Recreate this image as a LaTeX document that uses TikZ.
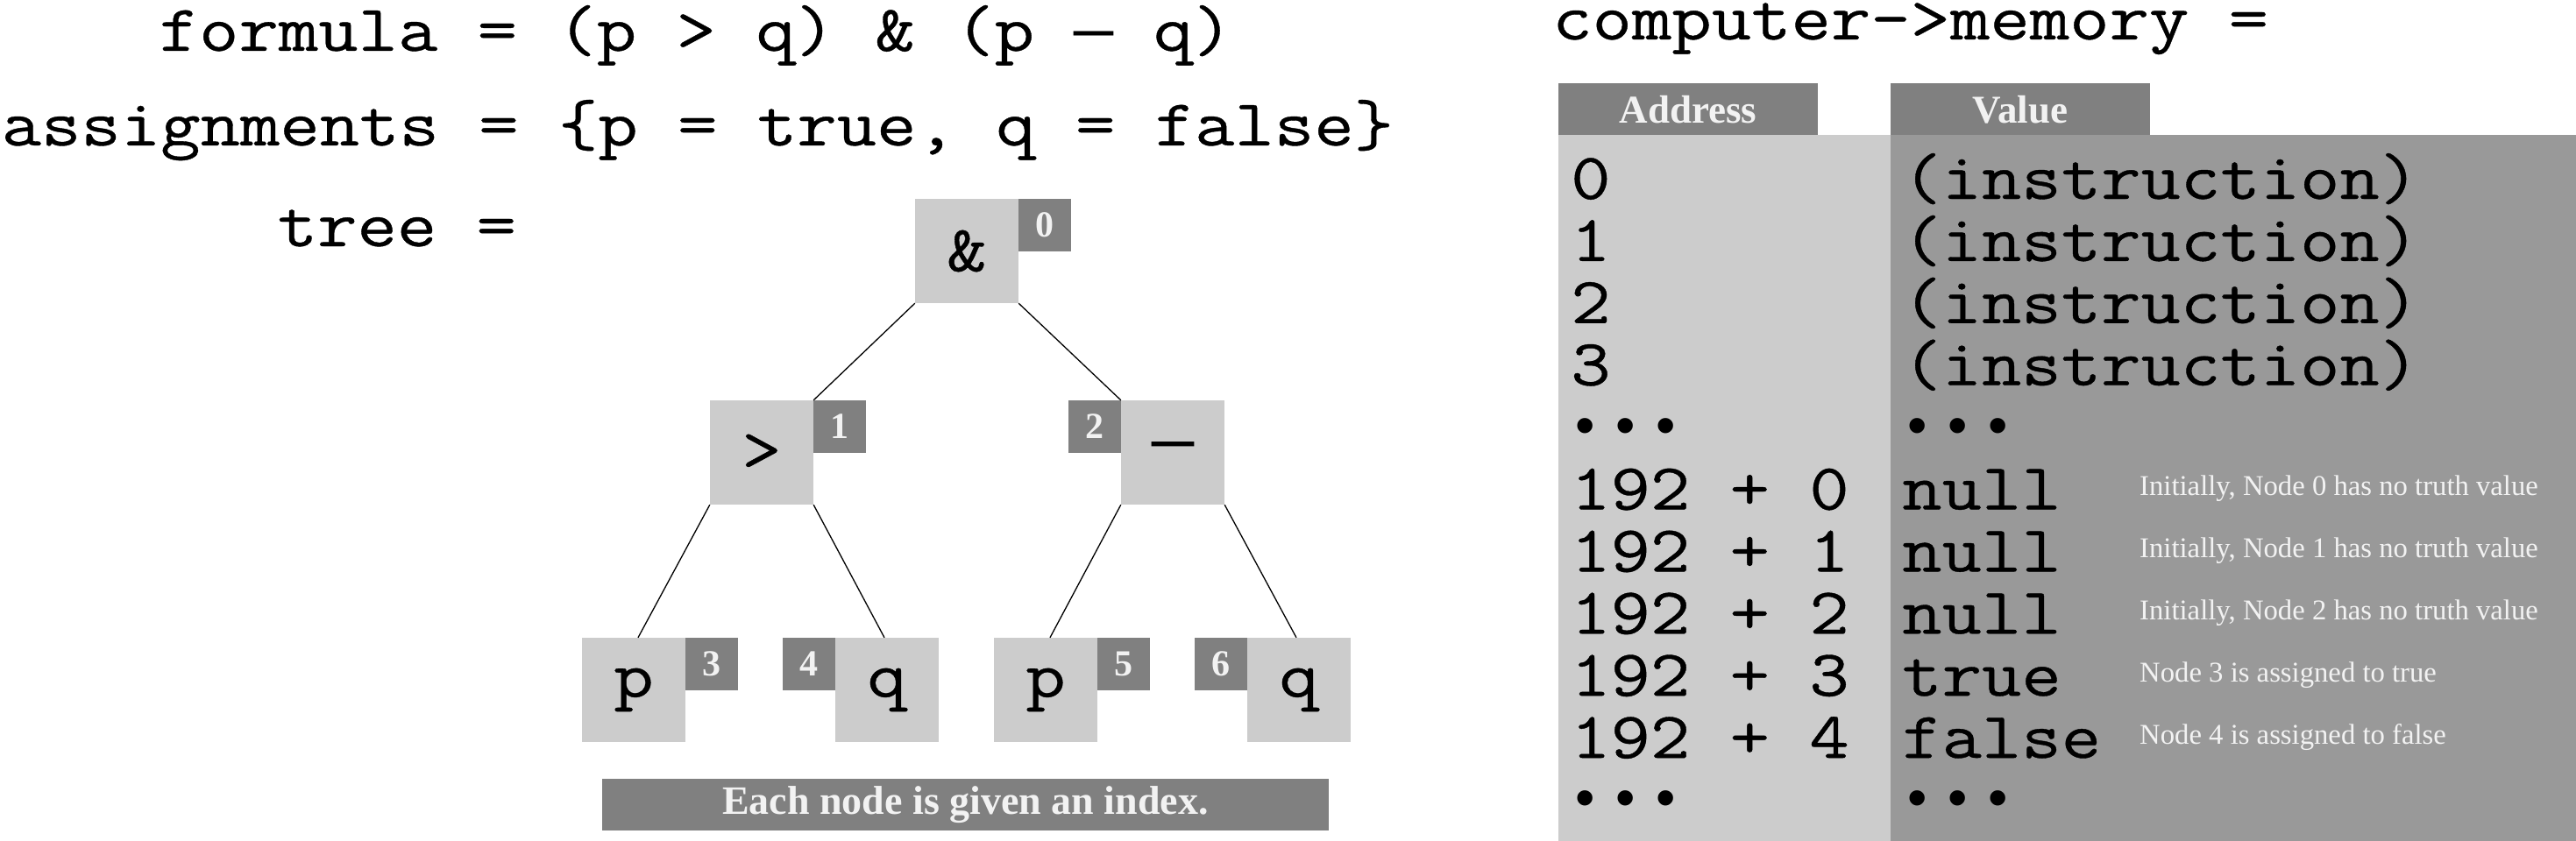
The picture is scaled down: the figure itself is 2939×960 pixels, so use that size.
\documentclass[tikz,border=0pt]{standalone}
\usepackage{fontspec}
\setmainfont{Liberation Serif}
\newfontfamily\cour{Latin Modern Mono}[FakeStretch=1.175,FakeBold=0.5]
\newfontfamily\dotfont{Liberation Mono}
\newcommand\dashglyph{{\dotfont —}}
\newcommand\dotrow{\makebox[45.8pt]{•}\makebox[45.8pt]{•}\makebox[45.8pt]{•}}
\definecolor{lightg}{gray}{0.8}
\definecolor{darkg}{gray}{0.5}
\definecolor{midg}{gray}{0.6}
\definecolor{paleg}{gray}{0.95}
\begin{document}
\begin{tikzpicture}[x=1pt,y=-1pt,
  mono/.style={font=\cour\fontsize{75}{80}\selectfont, inner sep=0pt, anchor=base west},
  dots/.style={font=\dotfont\fontsize{64}{68}\selectfont, inner sep=0pt, anchor=west},
  tnode/.style={fill=lightg, minimum width=118pt, minimum height=119pt, inner sep=0pt,
                font=\cour\fontsize{75}{80}\selectfont},
  idx/.style={fill=darkg, minimum width=60pt, minimum height=60pt, inner sep=0pt,
              text=paleg, font=\bfseries\fontsize{42}{44}\selectfont},
  hdr/.style={fill=darkg, minimum width=296pt, minimum height=59.5pt, inner sep=0pt,
              text=paleg, font=\bfseries\fontsize{45}{47}\selectfont},
  note/.style={font=\fontsize{32.7}{34}\selectfont, text=paleg, inner sep=0pt, anchor=base west},
  edge/.style={draw=black, line width=1.3pt}]
\useasboundingbox (0,0) rectangle (2939,960);

% left text
\node[mono] (formula) at (181.5,58) {formula = (p > q) \& (p \dashglyph{} q)};
\node[mono] (assign) at (1.5,166) {assignments = \{p = true, q = false\}};
\node[mono] (treelbl) at (316.5,281) {tree =};

% tree
\node[tnode] (n0) at (1103,286.5) {\&};
\node[tnode] (n1) at (869,516.5) {>};
\node[tnode, font=\dotfont\fontsize{80}{84}\selectfont] (n2) at (1338,516.5) {—};
\node[tnode] (n3) at (723,787.5) {p};
\node[tnode] (n4) at (1012,787.5) {q};
\node[tnode] (n5) at (1193,787.5) {p};
\node[tnode] (n6) at (1482,787.5) {q};

\node[idx, anchor=north west] (i0) at (n0.north east) {0};
\node[idx, anchor=north west] (i1) at (n1.north east) {1};
\node[idx, anchor=north east] (i2) at (n2.north west) {2};
\node[idx, anchor=north west] (i3) at (n3.north east) {3};
\node[idx, anchor=north east] (i4) at (n4.north west) {4};
\node[idx, anchor=north west] (i5) at (n5.north east) {5};
\node[idx, anchor=north east] (i6) at (n6.north west) {6};

\draw[edge] (n0.south west) -- (n1.north east);
\draw[edge] (n0.south east) -- (n2.north west);
\draw[edge] (n1.south west) -- ([xshift=5pt]n3.north);
\draw[edge] (n1.south east) -- ([xshift=-3pt]n4.north);
\draw[edge] (n2.south west) -- ([xshift=5pt]n5.north);
\draw[edge] (n2.south east) -- ([xshift=-3pt]n6.north);

\node[fill=darkg, minimum width=829pt, minimum height=59pt, inner sep=0pt, text=paleg,
      font=\bfseries\fontsize{46}{48}\selectfont] (caption) at (1101.5,918.5) {Each node is given an index.};

% memory table
\node[mono] (memlbl) at (1771,45) {computer->memory =};
\fill[lightg] (1778,154.5) rectangle (2157,960);
\fill[midg] (2157,154.5) rectangle (2939,960);
\node[hdr] (haddr) at (1926,124.75) {Address};
\node[hdr] (hval) at (2305,124.75) {Value};

\node[mono] (a0) at (1792,227) {0};
\node[mono] (a1) at (1792,297.9) {1};
\node[mono] (a2) at (1792,368.8) {2};
\node[mono] (a3) at (1792,439.7) {3};
\node[dots] (ad1) at (1786,492.5) {\dotrow};
\node[mono] (a4) at (1792,581.5) {192 + 0};
\node[mono] (a5) at (1792,652.4) {192 + 1};
\node[mono] (a6) at (1792,723.3) {192 + 2};
\node[mono] (a7) at (1792,794.2) {192 + 3};
\node[mono] (a8) at (1792,865.1) {192 + 4};
\node[dots] (ad2) at (1786,918) {\dotrow};

\node[mono] (v0) at (2170,227) {(instruction)};
\node[mono] (v1) at (2170,297.9) {(instruction)};
\node[mono] (v2) at (2170,368.8) {(instruction)};
\node[mono] (v3) at (2170,439.7) {(instruction)};
\node[dots] (vd1) at (2164.5,492.5) {\dotrow};
\node[mono] (v4) at (2170,581.5) {null};
\node[mono] (v5) at (2170,652.4) {null};
\node[mono] (v6) at (2170,723.3) {null};
\node[mono] (v7) at (2170,794.2) {true};
\node[mono] (v8) at (2170,865.1) {false};
\node[dots] (vd2) at (2164.5,918) {\dotrow};

\node[note] (c4) at (2441,565.5) {Initially, Node 0 has no truth value};
\node[note] (c5) at (2441,636.4) {Initially, Node 1 has no truth value};
\node[note] (c6) at (2441,707.3) {Initially, Node 2 has no truth value};
\node[note] (c7) at (2441,778.2) {Node 3 is assigned to true};
\node[note] (c8) at (2441,849.1) {Node 4 is assigned to false};
\end{tikzpicture}
\end{document}
